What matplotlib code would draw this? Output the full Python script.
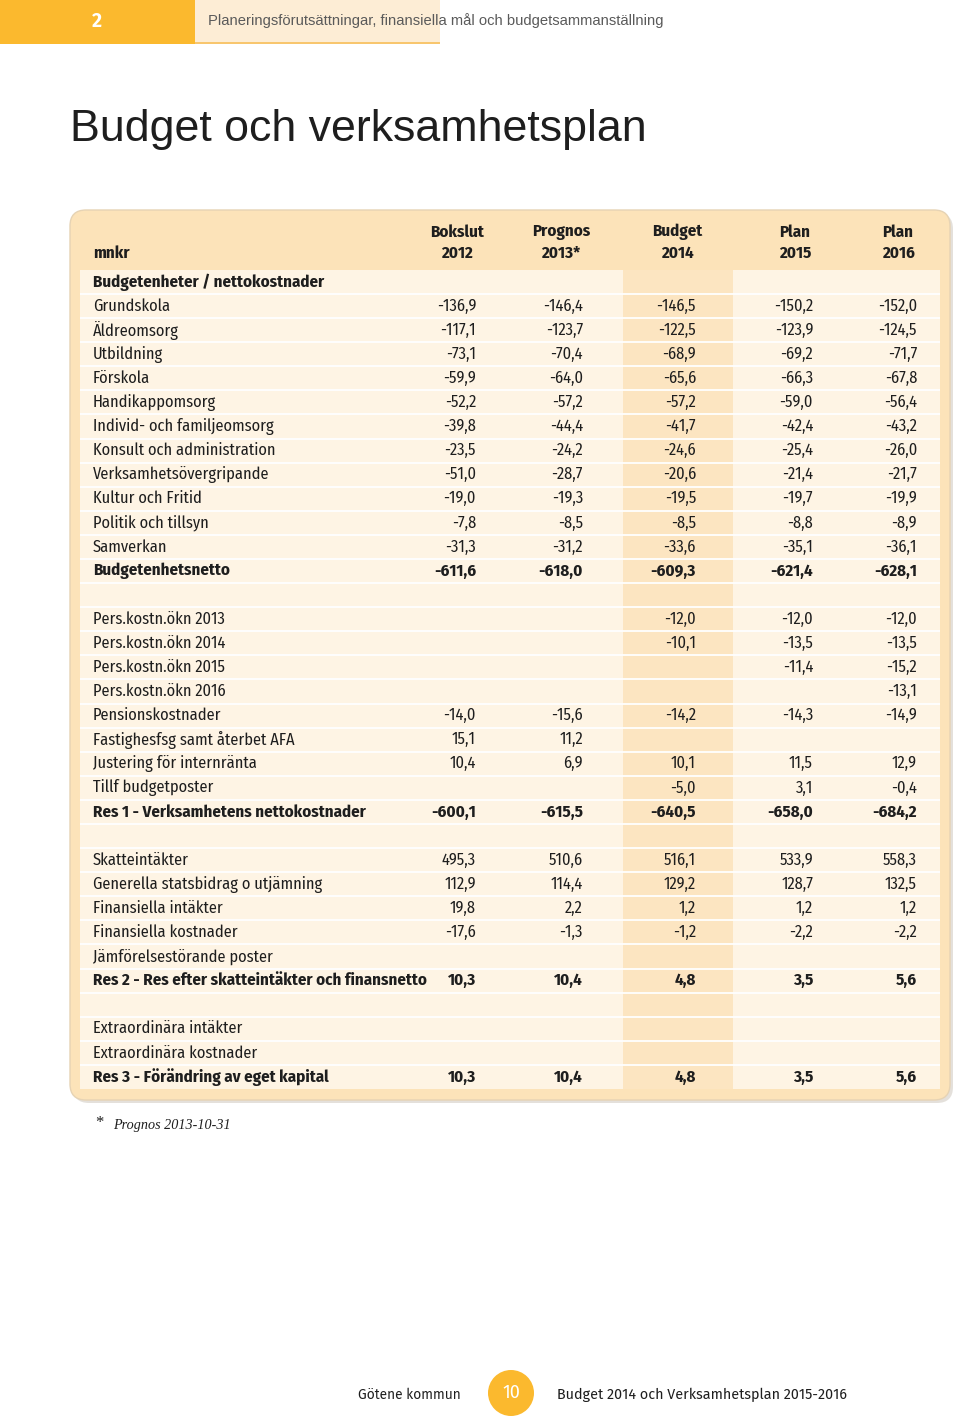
import matplotlib
matplotlib.use("Agg")
import matplotlib.pyplot as plt
from matplotlib.patches import Rectangle, FancyBboxPatch, Circle


# ============================================
# BUDGET OCH VERKSAMHETSPLAN - TABLE PAGE
# ============================================

plt.rcParams["font.family"] = ["Fira Sans Condensed", "DejaVu Sans"]

columns = ["Bokslut", "Prognos", "Budget", "Plan", "Plan"]
column_years = ["2012", "2013*", "2014", "2015", "2016"]

row_labels = [
    "Budgetenheter / nettokostnader",
    "Grundskola",
    "Äldreomsorg",
    "Utbildning",
    "Förskola",
    "Handikappomsorg",
    "Individ- och familjeomsorg",
    "Konsult och administration",
    "Verksamhetsövergripande",
    "Kultur och Fritid",
    "Politik och tillsyn",
    "Samverkan",
    "Budgetenhetsnetto",
    "",
    "Pers.kostn.ökn 2013",
    "Pers.kostn.ökn 2014",
    "Pers.kostn.ökn 2015",
    "Pers.kostn.ökn 2016",
    "Pensionskostnader",
    "Fastighesfsg samt återbet AFA",
    "Justering för internränta",
    "Tillf budgetposter",
    "Res 1 - Verksamhetens nettokostnader",
    "",
    "Skatteintäkter",
    "Generella statsbidrag o utjämning",
    "Finansiella intäkter",
    "Finansiella kostnader",
    "Jämförelsestörande poster",
    "Res 2 - Res efter skatteintäkter och finansnetto",
    "",
    "Extraordinära intäkter",
    "Extraordinära kostnader",
    "Res 3 - Förändring av eget kapital",
]

bold_rows = [
    "Budgetenheter / nettokostnader",
    "Budgetenhetsnetto",
    "Res 1 - Verksamhetens nettokostnader",
    "Res 2 - Res efter skatteintäkter och finansnetto",
    "Res 3 - Förändring av eget kapital",
]

N = None

bokslut_2012 = [N, -136.9, -117.1, -73.1, -59.9, -52.2, -39.8, -23.5, -51.0, -19.0, -7.8, -31.3, -611.6,
                N, N, N, N, N, -14.0, 15.1, 10.4, N, -600.1,
                N, 495.3, 112.9, 19.8, -17.6, N, 10.3,
                N, N, N, 10.3]
prognos_2013 = [N, -146.4, -123.7, -70.4, -64.0, -57.2, -44.4, -24.2, -28.7, -19.3, -8.5, -31.2, -618.0,
                N, N, N, N, N, -15.6, 11.2, 6.9, N, -615.5,
                N, 510.6, 114.4, 2.2, -1.3, N, 10.4,
                N, N, N, 10.4]
budget_2014 = [N, -146.5, -122.5, -68.9, -65.6, -57.2, -41.7, -24.6, -20.6, -19.5, -8.5, -33.6, -609.3,
               N, -12.0, -10.1, N, N, -14.2, N, 10.1, -5.0, -640.5,
               N, 516.1, 129.2, 1.2, -1.2, N, 4.8,
               N, N, N, 4.8]
plan_2015 = [N, -150.2, -123.9, -69.2, -66.3, -59.0, -42.4, -25.4, -21.4, -19.7, -8.8, -35.1, -621.4,
             N, -12.0, -13.5, -11.4, N, -14.3, N, 11.5, 3.1, -658.0,
             N, 533.9, 128.7, 1.2, -2.2, N, 3.5,
             N, N, N, 3.5]
plan_2016 = [N, -152.0, -124.5, -71.7, -67.8, -56.4, -43.2, -26.0, -21.7, -19.9, -8.9, -36.1, -628.1,
             N, -12.0, -13.5, -15.2, -13.1, -14.9, N, 12.9, -0.4, -684.2,
             N, 558.3, 132.5, 1.2, -2.2, N, 5.6,
             N, N, N, 5.6]

series = [bokslut_2012, prognos_2013, budget_2014, plan_2015, plan_2016]


def fmt(value):
    """Swedish decimal comma."""
    if value is None:
        return ""
    return f"{value:.1f}".replace(".", ",")


# colours
orange = "#FBB92E"
peach = "#FCE3B9"
cell_light = "#FEF4E4"
cell_budget = "#FCE5C1"
text_dark = "#1E1E1E"
fs = 11.8
fs_bold = 12.2

fig = plt.figure(figsize=(9.6, 14.22), dpi=100)
ax = fig.add_axes([0, 0, 1, 1])
ax.set_xlim(0, 960)
ax.set_ylim(1422, 0)
ax.axis("off")

# Top bar
ax.add_patch(Rectangle((0, 0), 195, 44, color=orange, lw=0))
ax.add_patch(Rectangle((195, 0), 245, 42, color="#FDEDD5", lw=0))
ax.add_patch(Rectangle((195, 42), 245, 2, color="#F8C66E", lw=0))
ax.text(97, 21, "2", color="white", fontsize=14, fontweight="bold",
        ha="center", va="center", family=["Fira Sans", "DejaVu Sans"])
ax.text(208, 21, "Planeringsförutsättningar, finansiella mål och budgetsammanställning",
        color="#5A5A5A", fontsize=10.65, ha="left", va="center",
        family=["Liberation Sans", "DejaVu Sans"])

# Title
ax.text(70, 129, "Budget och verksamhetsplan", color=text_dark, fontsize=32.2,
        ha="left", va="center", family=["Liberation Sans", "DejaVu Sans"])

# Table box with shadow
box_x0, box_y0, box_x1, box_y1 = 70, 210, 950, 1100
ax.add_patch(FancyBboxPatch((box_x0 + 3, box_y0 + 3), box_x1 - box_x0, box_y1 - box_y0,
                            boxstyle="round,pad=0,rounding_size=16",
                            fc="#D9D4CC", ec="none", alpha=0.7))
ax.add_patch(FancyBboxPatch((box_x0, box_y0), box_x1 - box_x0, box_y1 - box_y0,
                            boxstyle="round,pad=0,rounding_size=16",
                            fc=peach, ec="#E6D3B4", lw=1))

# Cell backgrounds
row_h = 24.09
first_center = 282
table_top = first_center - row_h / 2
n_rows = len(row_labels)
table_bottom = table_top + n_rows * row_h
ax.add_patch(Rectangle((80, table_top), 543, table_bottom - table_top, color=cell_light, lw=0))
ax.add_patch(Rectangle((623, table_top), 110, table_bottom - table_top, color=cell_budget, lw=0))
ax.add_patch(Rectangle((733, table_top), 207, table_bottom - table_top, color=cell_light, lw=0))
for i in range(1, n_rows):
    y = table_top + i * row_h
    ax.plot([80, 940], [y, y], color="white", lw=1.3, solid_capstyle="butt")

# Header
header_centers = [457, 561, 677, 795, 898]
number_right = [476, 583, 696, 813, 917]
for cx, name, year in zip(header_centers, columns, column_years):
    ax.text(cx, 232, name, fontsize=fs_bold, fontweight="bold", color=text_dark,
            ha="center", va="center")
    ax.text(cx, 253, year, fontsize=fs_bold, fontweight="bold", color=text_dark,
            ha="center", va="center")
ax.text(93, 253, "mnkr", fontsize=fs_bold, fontweight="bold", color=text_dark,
        ha="left", va="center")

# Rows
for i, label in enumerate(row_labels):
    y = first_center + i * row_h
    is_bold = label in bold_rows
    weight = "bold" if is_bold else "normal"
    size = fs_bold if is_bold else fs
    ax.text(93, y, label, fontsize=size, fontweight=weight, color=text_dark,
            ha="left", va="center")
    for col, xr in zip(series, number_right):
        ax.text(xr, y, fmt(col[i]), fontsize=size, fontweight=weight, color=text_dark,
                ha="right", va="center")

# Footnote
ax.text(95, 1123, "*", fontsize=12, color=text_dark, ha="left", va="center",
        family=["Liberation Serif", "DejaVu Serif"])
ax.text(113, 1126, "Prognos 2013-10-31", fontsize=10.2, style="italic", color=text_dark,
        ha="left", va="center", family=["Liberation Serif", "DejaVu Serif"])

# Footer
ax.add_patch(Circle((511, 1393), 23, color=orange, lw=0))
ax.text(511, 1393, "10", fontsize=13, color="white", ha="center", va="center",
        family=["Fira Sans", "DejaVu Sans"])
ax.text(461, 1395, "Götene kommun", fontsize=9.9, color=text_dark, ha="right", va="center",
        family=["Fira Sans", "DejaVu Sans"])
ax.text(557, 1395, "Budget 2014 och Verksamhetsplan 2015-2016", fontsize=10.3, color=text_dark,
        ha="left", va="center", family=["Fira Sans", "DejaVu Sans"])

fig.savefig("out.png", dpi=100, facecolor="white")
